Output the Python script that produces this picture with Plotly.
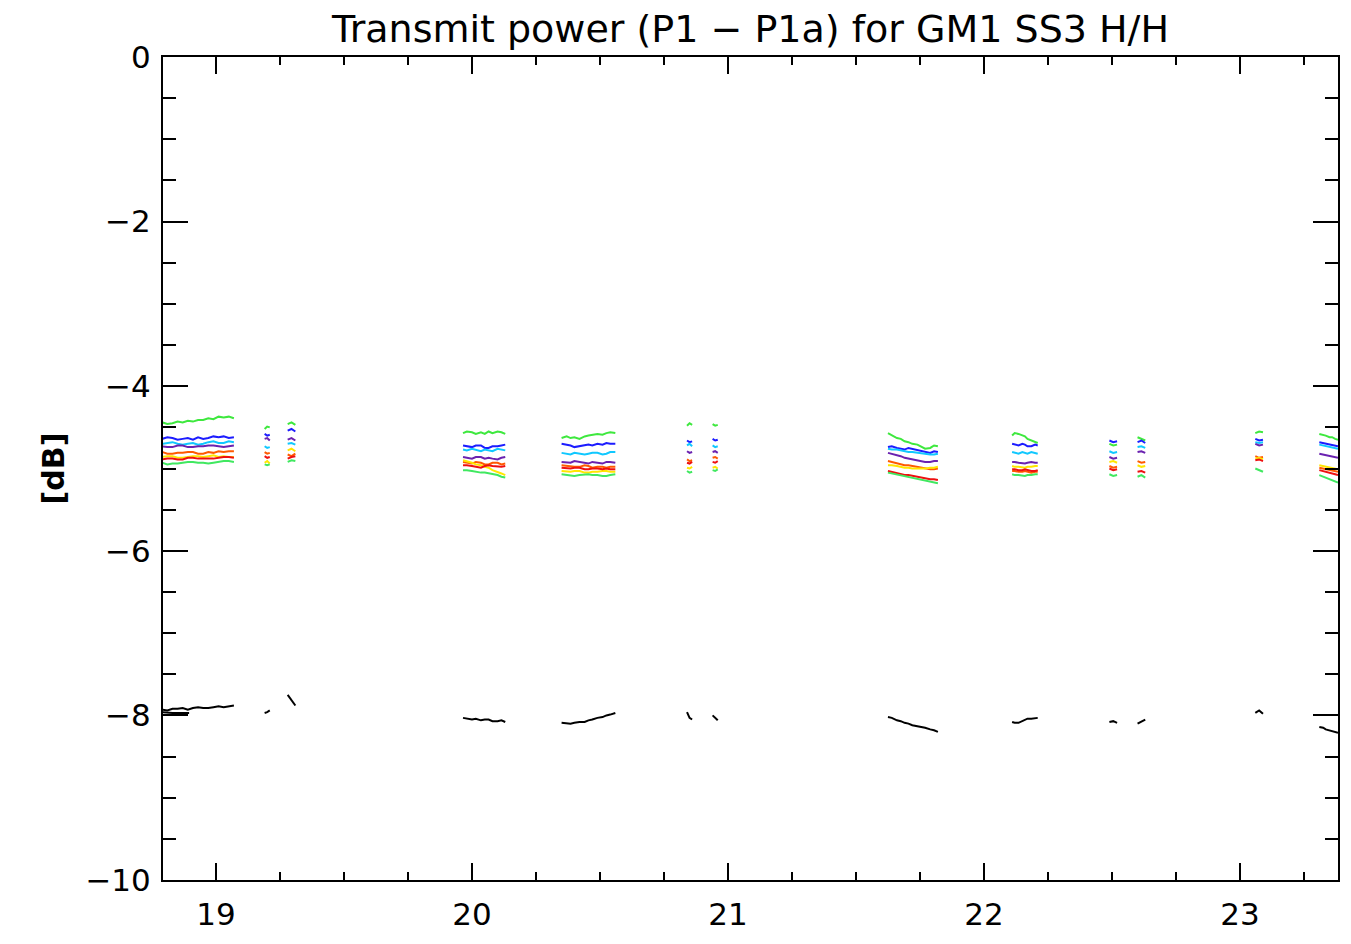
import plotly.graph_objects as go

# orbit times (hours) for each pass, one list per pass
t_passes = [
    [18.79, 18.81, 18.83, 18.85, 18.87, 18.89, 18.91, 18.93, 18.95, 18.97, 18.99, 19.01, 19.03, 19.05, 19.07],
    [19.19, 19.20, 19.21],
    [19.28, 19.295, 19.31],
    [19.965, 19.98, 20.0, 20.015, 20.035, 20.05, 20.065, 20.08, 20.1, 20.115, 20.13],
    [20.35, 20.37, 20.385, 20.40, 20.42, 20.44, 20.455, 20.47, 20.49, 20.51, 20.525, 20.54, 20.56],
    [20.84, 20.85, 20.86],
    [20.94, 20.95, 20.96],
    [21.625, 21.64, 21.66, 21.675, 21.69, 21.705, 21.72, 21.74, 21.755, 21.77, 21.79, 21.805, 21.82],
    [22.11, 22.12, 22.135, 22.15, 22.16, 22.17, 22.185, 22.20, 22.21],
    [22.49, 22.505, 22.52],
    [22.60, 22.615, 22.63],
    [23.06, 23.075, 23.09],
    [23.31, 23.325, 23.335, 23.35, 23.36, 23.372, 23.383],
]

ch1 = [
    [-4.44, -4.46, -4.45, -4.43, -4.44, -4.42, -4.43, -4.41, -4.41, -4.39, -4.40, -4.37, -4.38, -4.37, -4.39],
    [-4.52, -4.49, -4.50], [-4.46, -4.44, -4.47],
    [-4.57, -4.55, -4.56, -4.58, -4.56, -4.58, -4.55, -4.57, -4.55, -4.56, -4.58],
    [-4.63, -4.61, -4.63, -4.62, -4.64, -4.61, -4.60, -4.59, -4.58, -4.59, -4.57, -4.56, -4.57],
    [-4.48, -4.45, -4.47], [-4.46, -4.48, -4.47],
    [-4.57, -4.60, -4.63, -4.64, -4.67, -4.68, -4.70, -4.71, -4.74, -4.76, -4.75, -4.72, -4.73],
    [-4.60, -4.57, -4.58, -4.60, -4.61, -4.64, -4.66, -4.68, -4.69],
    [-4.70, -4.72, -4.71], [-4.62, -4.64, -4.66],
    [-4.57, -4.55, -4.56],
    [-4.58, -4.59, -4.60, -4.62, -4.62, -4.64, -4.65],
]
ch2 = [
    [-4.64, -4.62, -4.63, -4.65, -4.64, -4.63, -4.65, -4.62, -4.64, -4.63, -4.61, -4.62, -4.61, -4.63, -4.62],
    [-4.58, -4.60, -4.59], [-4.54, -4.52, -4.55],
    [-4.72, -4.73, -4.74, -4.72, -4.72, -4.75, -4.75, -4.73, -4.73, -4.72, -4.71],
    [-4.70, -4.71, -4.72, -4.74, -4.73, -4.72, -4.71, -4.72, -4.70, -4.71, -4.69, -4.70, -4.70],
    [-4.66, -4.68, -4.67], [-4.64, -4.66, -4.65],
    [-4.74, -4.73, -4.75, -4.76, -4.77, -4.75, -4.76, -4.78, -4.79, -4.80, -4.81, -4.79, -4.80],
    [-4.70, -4.71, -4.72, -4.70, -4.71, -4.73, -4.73, -4.71, -4.72],
    [-4.66, -4.68, -4.67], [-4.68, -4.66, -4.69],
    [-4.64, -4.66, -4.65],
    [-4.68, -4.69, -4.70, -4.71, -4.72, -4.72, -4.73],
]
ch3 = [
    [-4.70, -4.69, -4.68, -4.70, -4.71, -4.70, -4.69, -4.71, -4.70, -4.68, -4.67, -4.69, -4.69, -4.67, -4.68],
    [-4.73, -4.75, -4.74], [-4.70, -4.69, -4.71],
    [-4.77, -4.78, -4.76, -4.77, -4.79, -4.77, -4.78, -4.79, -4.76, -4.77, -4.78],
    [-4.81, -4.82, -4.83, -4.81, -4.82, -4.83, -4.82, -4.81, -4.81, -4.83, -4.82, -4.80, -4.80],
    [-4.72, -4.70, -4.73], [-4.72, -4.74, -4.73],
    [-4.76, -4.77, -4.77, -4.78, -4.79, -4.80, -4.80, -4.81, -4.82, -4.82, -4.83, -4.83, -4.82],
    [-4.80, -4.81, -4.82, -4.80, -4.81, -4.82, -4.80, -4.81, -4.82],
    [-4.79, -4.81, -4.80], [-4.74, -4.73, -4.75],
    [-4.68, -4.69, -4.68],
    [-4.71, -4.72, -4.73, -4.74, -4.75, -4.75, -4.76],
]
ch4 = [
    [-4.73, -4.74, -4.74, -4.72, -4.72, -4.74, -4.74, -4.73, -4.73, -4.72, -4.72, -4.73, -4.74, -4.73, -4.72],
    [-4.64, -4.63, -4.66], [-4.65, -4.63, -4.66],
    [-4.86, -4.87, -4.88, -4.86, -4.86, -4.88, -4.87, -4.88, -4.89, -4.87, -4.86],
    [-4.92, -4.93, -4.93, -4.91, -4.92, -4.93, -4.94, -4.92, -4.93, -4.94, -4.92, -4.92, -4.93],
    [-4.79, -4.81, -4.80], [-4.80, -4.79, -4.81],
    [-4.81, -4.82, -4.84, -4.85, -4.87, -4.88, -4.89, -4.90, -4.91, -4.92, -4.92, -4.91, -4.91],
    [-4.92, -4.92, -4.93, -4.94, -4.94, -4.93, -4.92, -4.93, -4.93],
    [-4.86, -4.88, -4.87], [-4.80, -4.79, -4.81],
    [-4.70, -4.72, -4.71],
    [-4.82, -4.83, -4.84, -4.85, -4.86, -4.86, -4.87],
]
ch5 = [
    [-4.80, -4.82, -4.82, -4.81, -4.81, -4.80, -4.80, -4.82, -4.82, -4.80, -4.81, -4.79, -4.80, -4.79, -4.79],
    [-4.80, -4.82, -4.81], [-4.83, -4.85, -4.82],
    [-4.92, -4.93, -4.94, -4.92, -4.93, -4.95, -4.95, -4.93, -4.93, -4.95, -4.94],
    [-4.96, -4.97, -4.97, -4.98, -4.98, -4.96, -4.97, -4.99, -4.98, -4.98, -4.99, -4.98, -4.98],
    [-4.89, -4.91, -4.90], [-4.87, -4.86, -4.88],
    [-4.91, -4.92, -4.94, -4.95, -4.96, -4.96, -4.97, -4.98, -4.99, -5.00, -5.01, -5.01, -5.00],
    [-5.03, -5.03, -5.04, -5.04, -5.03, -5.04, -5.05, -5.04, -5.04],
    [-4.97, -4.99, -4.98], [-4.91, -4.93, -4.92],
    [-4.85, -4.87, -4.86],
    [-4.99, -5.00, -5.01, -5.02, -5.03, -5.03, -5.04],
]
ch6 = [
    [-4.86, -4.85, -4.85, -4.87, -4.87, -4.86, -4.85, -4.85, -4.86, -4.85, -4.84, -4.86, -4.85, -4.86, -4.86],
    [-4.93, -4.91, -4.94], [-4.78, -4.76, -4.79],
    [-4.90, -4.91, -4.93, -4.95, -4.96, -4.98, -4.99, -5.02, -5.04, -5.06, -5.08],
    [-5.03, -5.04, -5.04, -5.03, -5.03, -5.05, -5.05, -5.04, -5.04, -5.03, -5.03, -5.04, -5.04],
    [-4.99, -5.00, -4.98], [-4.99, -4.98, -5.00],
    [-4.96, -4.96, -4.97, -4.98, -4.99, -4.99, -5.00, -5.00, -5.00, -5.00, -4.99, -4.99, -4.98],
    [-4.97, -4.98, -4.98, -4.99, -4.99, -4.98, -4.98, -4.97, -4.97],
    [-4.92, -4.91, -4.93], [-4.96, -4.98, -4.97],
    [-4.88, -4.87, -4.89],
    [-4.96, -4.97, -4.98, -4.99, -5.00, -5.00, -5.01],
]
ch7 = [
    [-4.89, -4.88, -4.88, -4.89, -4.89, -4.87, -4.87, -4.88, -4.88, -4.88, -4.88, -4.87, -4.86, -4.86, -4.87],
    [-4.85, -4.87, -4.86], [-4.88, -4.86, -4.85],
    [-4.96, -4.96, -4.97, -4.98, -4.99, -4.97, -4.96, -4.97, -4.98, -4.98, -4.97],
    [-4.99, -5.00, -5.00, -4.99, -4.99, -5.01, -5.01, -5.00, -5.00, -5.01, -5.00, -5.01, -5.01],
    [-4.93, -4.94, -4.92], [-4.92, -4.93, -4.91],
    [-5.03, -5.04, -5.06, -5.07, -5.08, -5.08, -5.09, -5.10, -5.11, -5.12, -5.13, -5.13, -5.14],
    [-5.01, -5.01, -5.02, -5.02, -5.01, -5.02, -5.03, -5.03, -5.02],
    [-5.00, -5.02, -5.01], [-5.04, -5.03, -5.05],
    [-4.90, -4.89, -4.91],
    [-5.02, -5.03, -5.04, -5.05, -5.06, -5.07, -5.08],
]
ch8 = [
    [-4.93, -4.95, -4.94, -4.94, -4.93, -4.92, -4.92, -4.93, -4.93, -4.94, -4.93, -4.92, -4.91, -4.91, -4.92],
    [-4.95, -4.96, -4.95], [-4.92, -4.90, -4.91],
    [-5.02, -5.02, -5.03, -5.04, -5.05, -5.05, -5.06, -5.07, -5.08, -5.10, -5.11],
    [-5.07, -5.08, -5.09, -5.09, -5.08, -5.07, -5.07, -5.08, -5.08, -5.09, -5.09, -5.08, -5.07],
    [-5.03, -5.05, -5.04], [-5.02, -5.03, -5.01],
    [-5.05, -5.06, -5.08, -5.09, -5.10, -5.11, -5.12, -5.13, -5.14, -5.15, -5.16, -5.17, -5.18],
    [-5.07, -5.08, -5.08, -5.09, -5.09, -5.08, -5.08, -5.07, -5.07],
    [-5.07, -5.09, -5.08], [-5.10, -5.08, -5.11],
    [-5.00, -5.02, -5.04],
    [-5.08, -5.10, -5.11, -5.13, -5.14, -5.16, -5.17],
]
ref = [
    [-7.93, -7.94, -7.92, -7.92, -7.91, -7.93, -7.91, -7.90, -7.91, -7.91, -7.90, -7.89, -7.90, -7.89, -7.88],
    [-7.97, -7.96, -7.94], [-7.75, -7.82, -7.88],
    [-8.03, -8.04, -8.05, -8.04, -8.06, -8.05, -8.05, -8.07, -8.07, -8.06, -8.08],
    [-8.09, -8.10, -8.10, -8.09, -8.08, -8.08, -8.06, -8.05, -8.03, -8.02, -8.00, -7.99, -7.97],
    [-7.96, -8.03, -8.05], [-8.00, -8.03, -8.06],
    [-8.02, -8.03, -8.06, -8.07, -8.09, -8.10, -8.12, -8.13, -8.14, -8.15, -8.17, -8.18, -8.20],
    [-8.08, -8.09, -8.09, -8.07, -8.06, -8.04, -8.04, -8.03, -8.03],
    [-8.08, -8.07, -8.09], [-8.10, -8.07, -8.05],
    [-7.97, -7.94, -7.98],
    [-8.14, -8.15, -8.17, -8.18, -8.19, -8.20, -8.21],
]
ref_b_t = [18.79, 18.83, 18.895]
ref_b = [-7.96, -7.97, -7.97]

channels = [ch1, ch2, ch3, ch4, ch5, ch6, ch7, ch8, ref]
colors = ['#3ee83e', '#1c1cff', '#10c8ff', '#6a22b0', '#ff5a00',
          '#ffe600', '#ee1010', '#40e860', '#000000']


def flatten(passes):
    # join passes with None so the lines break between them
    out = []
    for p in passes:
        out += p + [None]
    return out[:-1]


t = flatten(t_passes)

fig = go.Figure()
for ys, col in zip(channels, colors):
    fig.add_trace(go.Scatter(x=t, y=flatten(ys), mode='lines',
                             line=dict(color=col, width=2), connectgaps=False))
fig.add_trace(go.Scatter(x=ref_b_t, y=ref_b, mode='lines', line=dict(color='black', width=2)))

fnt = 'DejaVu Sans, sans-serif'
fig.update_layout(
    width=1351, height=944,
    margin=dict(l=163, r=13, t=57, b=64),
    plot_bgcolor='white', paper_bgcolor='white',
    showlegend=False,
    font=dict(family=fnt, size=31, color='black'),
    title=dict(text='Transmit power (P1 − P1a) for GM1 SS3 H/H', x=0.5, xref='paper',
               y=1 - 29 / 944, yref='container', yanchor='middle', xanchor='center',
               font=dict(size=38, family=fnt)),
)
fig.update_xaxes(range=[18.793, 23.383], tickvals=[19, 20, 21, 22, 23], ticks='inside',
                 ticklen=17, tickwidth=1.5, tickcolor='black', ticklabelstandoff=6,
                 minor=dict(dtick=0.25, tick0=19, ticks='inside', ticklen=8, tickwidth=1.5, tickcolor='black'),
                 showline=True, linewidth=2, linecolor='black', mirror='ticks',
                 showgrid=False, zeroline=False)
fig.update_yaxes(range=[-10, 0], tickvals=[-10, -8, -6, -4, -2, 0],
                 ticktext=['−10', '−8', '−6', '−4', '−2', '0'], ticks='inside',
                 ticklen=25, tickwidth=1.5, tickcolor='black', ticklabelstandoff=4,
                 minor=dict(dtick=0.5, ticks='inside', ticklen=13, tickwidth=1.5, tickcolor='black'),
                 showline=True, linewidth=2, linecolor='black', mirror='ticks',
                 showgrid=False, zeroline=False,
                 title=dict(text='<b>[dB]</b>', font=dict(size=30), standoff=12))

# drop the default page margin so the figure fills the window exactly
fig.write_html("out.html", config={'displayModeBar': False},
               post_script="document.body.style.margin = '0';")
